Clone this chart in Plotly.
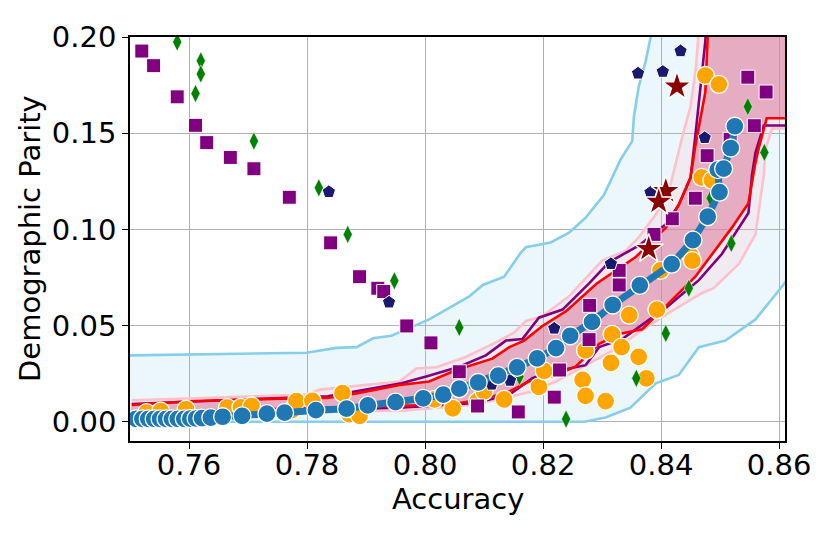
import plotly.graph_objects as go

# ---- data ----

# wide sky-blue band
sky_up_x = [0.7500, 0.7799, 0.7850, 0.7884, 0.7912, 0.7943, 0.8007, 0.8075, 0.8098, 0.8134,
            0.8162, 0.8171, 0.8213, 0.8244, 0.8272, 0.8303, 0.8332, 0.8351, 0.8354, 0.8362,
            0.8374, 0.8382, 0.8390]
sky_up_y = [0.0345, 0.0359, 0.0384, 0.0388, 0.0434, 0.0447, 0.0532, 0.0652, 0.0711, 0.0754,
            0.0878, 0.0907, 0.0932, 0.0983, 0.1060, 0.1179, 0.1366, 0.1459, 0.1587, 0.1740,
            0.1876, 0.1995, 0.2150]
sky_lo_x = [0.7500, 0.8270, 0.8306, 0.8348, 0.8391, 0.8430, 0.8464, 0.8509, 0.8560, 0.8605, 0.8640]
sky_lo_y = [0.0000, 0.0000, 0.0022, 0.0073, 0.0200, 0.0243, 0.0388, 0.0422, 0.0532, 0.0703, 0.0850]

# pink band
pink_up_x = [0.7503, 0.7799, 0.7821, 0.7957, 0.7985, 0.8019, 0.8069, 0.8120, 0.8151, 0.8171,
             0.8199, 0.8244, 0.8300, 0.8340, 0.8362, 0.8391, 0.8413, 0.8439, 0.8450, 0.8459,
             0.8463, 0.8465]
pink_up_y = [0.0112, 0.0141, 0.0167, 0.0209, 0.0277, 0.0283, 0.0337, 0.0413, 0.0464, 0.0524,
             0.0549, 0.0652, 0.0838, 0.0889, 0.0958, 0.1077, 0.1194, 0.1519, 0.1638, 0.1842,
             0.1995, 0.2150]
pink_lo_x = [0.7500, 0.7821, 0.7957, 0.8086, 0.8148, 0.8182, 0.8222, 0.8272, 0.8323, 0.8362,
             0.8413, 0.8469, 0.8489, 0.8532, 0.8560, 0.8574, 0.8577, 0.8588, 0.8640]
pink_lo_y = [0.0051, 0.0061, 0.0056, 0.0090, 0.0133, 0.0158, 0.0209, 0.0294, 0.0379, 0.0464,
             0.0566, 0.0668, 0.0694, 0.0821, 0.0974, 0.1281, 0.1417, 0.1525, 0.1525]

# red bounds
red_up_x = [0.7503, 0.7598, 0.7801, 0.7835, 0.7886, 0.7957, 0.8007, 0.8053, 0.8114, 0.8143,
            0.8168, 0.8199, 0.8239, 0.8291, 0.8357, 0.8408, 0.8430, 0.8450, 0.8458, 0.8475,
            0.8481]
red_up_y = [0.0087, 0.0107, 0.0124, 0.0124, 0.0149, 0.0191, 0.0209, 0.0269, 0.0328, 0.0388,
            0.0422, 0.0498, 0.0575, 0.0719, 0.0856, 0.1009, 0.1128, 0.1270, 0.1434, 0.1714,
            0.2150]
red_lo_x = [0.7500, 0.7821, 0.7962, 0.8041, 0.8098, 0.8143, 0.8176, 0.8222, 0.8255, 0.8295,
            0.8329, 0.8368, 0.8408, 0.8458, 0.8520, 0.8548, 0.8559, 0.8565, 0.8579, 0.8640]
red_lo_y = [0.0046, 0.0073, 0.0082, 0.0090, 0.0116, 0.0158, 0.0209, 0.0243, 0.0286, 0.0405,
            0.0456, 0.0481, 0.0601, 0.0754, 0.1009, 0.1136, 0.1332, 0.1417, 0.1578, 0.1578]

# purple bounds
pur_up_x = [0.7503, 0.7835, 0.7960, 0.8002, 0.8058, 0.8103, 0.8137, 0.8165, 0.8193, 0.8233,
            0.8278, 0.8312, 0.8362, 0.8408, 0.8430, 0.8450, 0.8458, 0.8475, 0.8478]
pur_up_y = [0.0092, 0.0133, 0.0200, 0.0235, 0.0286, 0.0345, 0.0422, 0.0430, 0.0541, 0.0583,
            0.0719, 0.0830, 0.0915, 0.1026, 0.1128, 0.1270, 0.1485, 0.1978, 0.2150]
pur_lo_x = [0.7500, 0.7957, 0.8086, 0.8143, 0.8182, 0.8205, 0.8272, 0.8295, 0.8334, 0.8362,
            0.8408, 0.8464, 0.8503, 0.8548, 0.8554, 0.8560, 0.8574, 0.8640]
pur_lo_y = [0.0041, 0.0073, 0.0098, 0.0141, 0.0226, 0.0252, 0.0294, 0.0388, 0.0430, 0.0490,
            0.0592, 0.0736, 0.0872, 0.1085, 0.1281, 0.1399, 0.1540, 0.1540]

# blue front (line with circles)
front_x = [0.7510, 0.7521, 0.7531, 0.7541, 0.7551, 0.7561, 0.7571, 0.7581, 0.7592, 0.7602,
           0.7612, 0.7622, 0.7637, 0.7657, 0.7690, 0.7732, 0.7762, 0.7815, 0.7867, 0.7903,
           0.7950, 0.7997, 0.8031, 0.8058, 0.8090, 0.8124, 0.8156, 0.8190, 0.8222, 0.8246,
           0.8283, 0.8318, 0.8364, 0.8418, 0.8454, 0.8479, 0.8499, 0.8496, 0.8506, 0.8518,
           0.8525]
front_y = [0.0015, 0.0015, 0.0015, 0.0015, 0.0015, 0.0015, 0.0015, 0.0015, 0.0015, 0.0016,
           0.0017, 0.0019, 0.0022, 0.0026, 0.0031, 0.0042, 0.0047, 0.0060, 0.0068, 0.0085,
           0.0102, 0.0122, 0.0141, 0.0172, 0.0204, 0.0240, 0.0283, 0.0329, 0.0383, 0.0447,
           0.0519, 0.0607, 0.0709, 0.0819, 0.0944, 0.1066, 0.1194, 0.1311, 0.1316, 0.1423,
           0.1536]

# orange circles
orange_x = [0.7528, 0.7552, 0.7595, 0.7665, 0.7688, 0.7706, 0.7774, 0.7782, 0.7809, 0.7860,
            0.7872, 0.7889, 0.8016, 0.8047, 0.8089, 0.8100, 0.8134, 0.8193, 0.8202, 0.8267,
            0.8272, 0.8306, 0.8272, 0.8315, 0.8317, 0.8333, 0.8346, 0.8362, 0.8375, 0.8393,
            0.8399, 0.8450, 0.8453, 0.8469, 0.8486, 0.8475, 0.8498]
orange_y = [0.0047, 0.0055, 0.0065, 0.0073, 0.0075, 0.0082, 0.0061, 0.0107, 0.0109, 0.0149,
            0.0039, 0.0031, 0.0116, 0.0070, 0.0107, 0.0158, 0.0116, 0.0181, 0.0264, 0.0218,
            0.0135, 0.0107, 0.0371, 0.0306, 0.0454, 0.0388, 0.0554, 0.0337, 0.0226, 0.0583,
            0.0787, 0.0864, 0.0838, 0.1270, 0.1255, 0.1800, 0.1754]

# purple squares
square_x = [0.7520, 0.7540, 0.7580, 0.7611, 0.7630, 0.7670, 0.7710, 0.7770, 0.7840, 0.7889,
            0.7920, 0.7930, 0.7969, 0.8010, 0.8058, 0.8089, 0.8158, 0.8219, 0.8228, 0.8278,
            0.8279, 0.8329, 0.8329, 0.8388, 0.8419, 0.8458, 0.8478, 0.8517, 0.8558, 0.8547,
            0.8578]
square_y = [0.1927, 0.1851, 0.1689, 0.1541, 0.1451, 0.1374, 0.1315, 0.1167, 0.0930, 0.0754,
            0.0694, 0.0677, 0.0498, 0.0410, 0.0260, 0.0082, 0.0051, 0.0128, 0.0269, 0.0427,
            0.0605, 0.0787, 0.0711, 0.0974, 0.1055, 0.1162, 0.1383, 0.1468, 0.1539, 0.1791,
            0.1714]

# green diamonds
diamond_x = [0.7580, 0.7620, 0.7620, 0.7611, 0.7710, 0.7820, 0.7869, 0.7948, 0.8058, 0.8160,
             0.8239, 0.8358, 0.8408, 0.8447, 0.8484, 0.8519, 0.8547, 0.8575]
diamond_y = [0.1974, 0.1876, 0.1808, 0.1706, 0.1459, 0.1216, 0.0974, 0.0733, 0.0490, 0.0235,
             0.0014, 0.0226, 0.0459, 0.0694, 0.1162, 0.0927, 0.1638, 0.1400]

# navy pentagons
pent_x = [0.7837, 0.7939, 0.8113, 0.8144, 0.8219, 0.8315, 0.8382, 0.8361, 0.8403, 0.8433, 0.8474]
pent_y = [0.1195, 0.0621, 0.0194, 0.0214, 0.0485, 0.0821, 0.1192, 0.1811, 0.1820, 0.1927, 0.1476]

# dark red stars
star_x = [0.8427, 0.8408, 0.8396, 0.8379]
star_y = [0.1743, 0.1199, 0.1144, 0.0898]

x_ticks = [0.76, 0.78, 0.80, 0.82, 0.84, 0.86]
y_ticks = [0.00, 0.05, 0.10, 0.15, 0.20]

FAR_X, FAR_Y = 0.87, 0.25
FONT = "DejaVu Sans"


def band(ux, uy, lx, ly):
    # closed outline: upper edge, round the far corner, lower edge back
    xs = ux + [FAR_X, FAR_X] + lx[::-1]
    ys = uy + [FAR_Y, ly[-1]] + ly[::-1]
    return xs, ys


fig = go.Figure()

# fills
for ux, uy, lx, ly, col in [
    (sky_up_x, sky_up_y, sky_lo_x, sky_lo_y, "rgba(135,206,235,0.16)"),
    (pink_up_x, pink_up_y, pink_lo_x, pink_lo_y, "rgba(255,192,203,0.22)"),
    (red_up_x, red_up_y, red_lo_x, red_lo_y, "rgba(219,112,147,0.5)"),
]:
    bx, by = band(ux, uy, lx, ly)
    fig.add_trace(go.Scatter(x=bx, y=by, mode="lines", fill="toself", fillcolor=col,
                             line=dict(width=0), hoverinfo="skip", showlegend=False))

# boundary lines
for xs, ys, col in [
    (sky_up_x, sky_up_y, "skyblue"), (sky_lo_x, sky_lo_y, "skyblue"),
    (pink_up_x, pink_up_y, "pink"), (pink_lo_x, pink_lo_y, "pink"),
    (pur_up_x, pur_up_y, "purple"), (pur_lo_x, pur_lo_y, "purple"),
    (red_up_x, red_up_y, "red"), (red_lo_x, red_lo_y, "red"),
]:
    fig.add_trace(go.Scatter(x=xs, y=ys, mode="lines", line=dict(color=col, width=2.6),
                             showlegend=False))

# scattered models
fig.add_trace(go.Scatter(x=orange_x, y=orange_y, mode="markers", showlegend=False,
                         marker=dict(symbol="circle", size=18, color="orange",
                                     line=dict(color="white", width=1.3))))
fig.add_trace(go.Scatter(x=square_x, y=square_y, mode="markers", showlegend=False,
                         marker=dict(symbol="square", size=14, color="purple",
                                     line=dict(color="white", width=1))))
fig.add_trace(go.Scatter(x=diamond_x, y=diamond_y, mode="markers", showlegend=False,
                         marker=dict(symbol="diamond-tall", size=13, color="green",
                                     line=dict(color="white", width=0.5))))
fig.add_trace(go.Scatter(x=pent_x, y=pent_y, mode="markers", showlegend=False,
                         marker=dict(symbol="pentagon", size=14, color="midnightblue",
                                     line=dict(color="white", width=1))))
fig.add_trace(go.Scatter(x=star_x, y=star_y, mode="markers", showlegend=False,
                         marker=dict(symbol="star", size=22, color="darkred",
                                     line=dict(color="white", width=1.5))))

# front
fig.add_trace(go.Scatter(x=front_x, y=front_y, mode="lines+markers", showlegend=False,
                         line=dict(color="#1f77b4", width=7),
                         marker=dict(symbol="circle", size=18, color="#1f77b4",
                                     line=dict(color="white", width=1.3))))

axis_common = dict(showline=True, linecolor="black", linewidth=1.5, mirror=True,
                   ticks="outside", ticklen=6, tickwidth=1.3, tickcolor="black",
                   showgrid=True, gridcolor="#b0b0b0", gridwidth=1.1, zeroline=False,
                   tickfont=dict(family=FONT, size=29, color="black"),
                   tickformat=".2f")

fig.update_xaxes(range=[0.75, 0.861], tickvals=x_ticks, ticklabelstandoff=-9, **axis_common)
fig.update_yaxes(range=[-0.01, 0.20], tickvals=y_ticks, **axis_common)

# page body has an 8px margin, so the margins here are shifted to compensate
fig.update_layout(
    width=830, height=534,
    margin=dict(l=122, r=53, t=21, b=101),
    plot_bgcolor="white", paper_bgcolor="white",
    font=dict(family=FONT, color="black"),
    annotations=[
        dict(text="Accuracy", xref="paper", yref="paper", x=0.5, y=0, yshift=-58,
             xanchor="center", yanchor="middle", showarrow=False,
             font=dict(family=FONT, size=29, color="black")),
        dict(text="Demographic Parity", xref="paper", yref="paper", x=0, y=0.5,
             xshift=-100, textangle=-90, xanchor="center", yanchor="middle",
             showarrow=False, font=dict(family=FONT, size=29, color="black")),
    ],
)

fig.write_html("out.html")
